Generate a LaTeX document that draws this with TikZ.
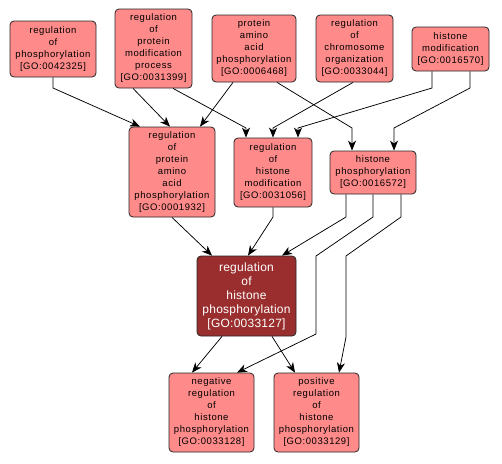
\documentclass[tikz,border=0pt]{standalone}
\usepackage{fontspec}
\setmainfont{Liberation Sans}
\usetikzlibrary{arrows.meta}
\definecolor{lightnode}{RGB}{255,138,138}
\definecolor{darknode}{RGB}{154,46,46}
\definecolor{edgeblack}{RGB}{0,0,0}
\begin{document}
\begin{tikzpicture}[x=1pt,y=-1pt,
  gonode/.style={draw=black!85, line width=0.8pt, rounded corners=4pt, fill=lightnode,
    align=center, inner sep=1pt,
    font=\fontsize{9.5}{12}\selectfont\addfontfeatures{LetterSpace=6}},
  darkgonode/.style={gonode, fill=darknode, text=white,
    font=\fontsize{12}{14}\selectfont\addfontfeatures{LetterSpace=2}},
  link/.style={draw=edgeblack, line width=0.75pt, -{Stealth[length=10pt,width=8pt,inset=3pt]}}
]
\useasboundingbox (0,0) rectangle (502,463);
\fill[white] (0,0) rectangle (502,463);

\node[gonode, minimum width=86pt, minimum height=56pt] (A) at (53,49)
  {regulation\\of\\phosphorylation\\{[}GO:0042325{]}};
\node[gonode, minimum width=77pt, minimum height=79pt] (B) at (153.5,48.5)
  {regulation\\of\\protein\\modification\\process\\{[}GO:0031399{]}};
\node[gonode, minimum width=84pt, minimum height=67pt] (C) at (254,48.5)
  {protein\\amino\\acid\\phosphorylation\\{[}GO:0006468{]}};
\node[gonode, minimum width=77pt, minimum height=67pt] (D) at (354.5,48.5)
  {regulation\\of\\chromosome\\organization\\{[}GO:0033044{]}};
\node[gonode, minimum width=77pt, minimum height=44pt] (E) at (450.5,49)
  {histone\\modification\\{[}GO:0016570{]}};
\node[gonode, minimum width=86pt, minimum height=90pt] (F) at (172,172)
  {regulation\\of\\protein\\amino\\acid\\phosphorylation\\{[}GO:0001932{]}};
\node[gonode, minimum width=78pt, minimum height=69pt] (G) at (273,172.5)
  {regulation\\of\\histone\\modification\\{[}GO:0031056{]}};
\node[gonode, minimum width=86pt, minimum height=43pt] (H) at (373,172.5)
  {histone\\phosphorylation\\{[}GO:0016572{]}};
\node[darkgonode, minimum width=99pt, minimum height=80pt] (I) at (246.5,296)
  {regulation\\of\\histone\\phosphorylation\\{[}GO:0033127{]}};
\node[gonode, minimum width=85pt, minimum height=79pt] (J) at (211.5,412.5)
  {negative\\regulation\\of\\histone\\phosphorylation\\{[}GO:0033128{]}};
\node[gonode, minimum width=85pt, minimum height=79pt] (K) at (316.5,412.5)
  {positive\\regulation\\of\\histone\\phosphorylation\\{[}GO:0033129{]}};

% edges
\draw[link] (A.south) -- (53,88) -- ([xshift=-32pt]F.north);
\draw[link] ([xshift=-20.5pt]B.south) -- ([xshift=-2pt]F.north);
\draw[link] ([xshift=19.5pt]B.south) -- (246,128) -- ([xshift=-27pt]G.north);
\draw[link] ([xshift=-21pt]C.south) -- ([xshift=28pt]F.north);
\draw[link] ([xshift=23pt]C.south) -- (352,128) -- ([xshift=-21pt]H.north);
\draw[link] ([xshift=-1.5pt]D.south) -- (273,128) -- (G.north);
\draw[link] ([xshift=-18.5pt]E.south) -- (432,88) -- (298,128) -- ([xshift=25pt]G.north);
\draw[link] ([xshift=19.5pt]E.south) -- (470,88) -- (394,128) -- ([xshift=21pt]H.north);
\draw[link] (F.south) -- ([xshift=-34.5pt]I.north);
\draw[link] (G.south) -- (273,217) -- ([xshift=1.5pt]I.north);
\draw[link] ([xshift=-27pt]H.south) -- (346,217) -- ([xshift=35.5pt]I.north);
\draw[link] (H.south) -- (373,217) -- (316,256) -- (316,334) -- ([xshift=25.5pt]J.north);
\draw[link] ([xshift=28pt]H.south) -- (401,217) -- (346,256) -- (346,337) -- ([xshift=22.5pt]K.north);
\draw[link] ([xshift=-24.5pt]I.south) -- ([xshift=-19.5pt]J.north);
\draw[link] ([xshift=25.5pt]I.south) -- ([xshift=-21.5pt]K.north);
\end{tikzpicture}
\end{document}
